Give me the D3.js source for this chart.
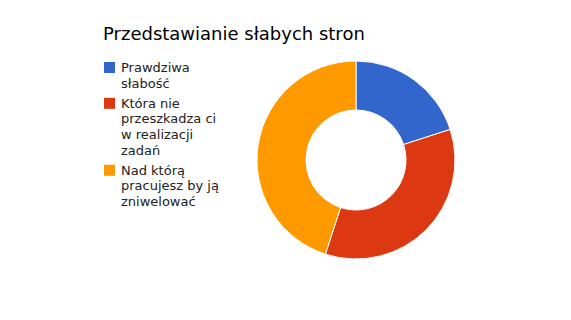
<!DOCTYPE html>
<html>
<head>
<meta charset="utf-8">
<script src="https://cdn.jsdelivr.net/npm/d3@7"></script>
<style>
  body { margin: 0; background: #fff; }
  svg { display: block; font-family: "DejaVu Sans", Verdana, sans-serif; }
</style>
</head>
<body>
<div id="chart"></div>
<script>
// chart data
var title = "Przedstawianie słabych stron";
var categories = ["Prawdziwa słabość", "Która nie przeszkadza ci w realizacji zadań", "Nad którą pracujesz by ją zniwelować"];
var values = [20, 35, 45];
var colors = ["#3366cc", "#dc3912", "#ff9900"];

var width = 571, height = 320;

var svg = d3.select("#chart").append("svg")
    .attr("width", width)
    .attr("height", height);

svg.append("rect")
    .attr("width", width)
    .attr("height", height)
    .attr("fill", "#fff");

// title
svg.append("text")
    .attr("x", 103)
    .attr("y", 40)
    .attr("font-size", 18)
    .attr("fill", "#000")
    .text(title);

// donut
var cx = 356, cy = 160, outerR = 99, innerR = 50;

var pie = d3.pie().sort(null).value(function(d) { return d; });
var arc = d3.arc().innerRadius(innerR).outerRadius(outerR);

var g = svg.append("g").attr("transform", "translate(" + cx + "," + cy + ")");

g.selectAll("path")
    .data(pie(values))
    .enter().append("path")
    .attr("d", arc)
    .attr("fill", function(d, i) { return colors[i]; })
    .attr("stroke", "#fff")
    .attr("stroke-width", 1);

// legend with wrapped labels
var legend = svg.append("g");
var lineH = 15.6, entryGap = 4.6, maxW = 100;
var y = 72;

function wrapWords(str, tmp) {
    var words = str.split(" ");
    var lines = [];
    var cur = "";
    words.forEach(function(w) {
        var test = cur ? cur + " " + w : w;
        tmp.text(test);
        if (cur && tmp.node().getComputedTextLength() > maxW) {
            lines.push(cur);
            cur = w;
        } else {
            cur = test;
        }
    });
    if (cur) lines.push(cur);
    return lines;
}

var tmp = svg.append("text").attr("font-size", 13).attr("visibility", "hidden");

categories.forEach(function(c, i) {
    var lines = wrapWords(c, tmp);
    legend.append("rect")
        .attr("x", 104)
        .attr("y", y - 10)
        .attr("width", 11)
        .attr("height", 11)
        .attr("fill", colors[i]);
    var t = legend.append("text")
        .attr("font-size", 13)
        .attr("fill", "#222");
    lines.forEach(function(l, j) {
        t.append("tspan")
            .attr("x", 121)
            .attr("y", y + j * lineH)
            .text(l);
    });
    y += lines.length * lineH + entryGap;
});
tmp.remove();
</script>
</body>
</html>
